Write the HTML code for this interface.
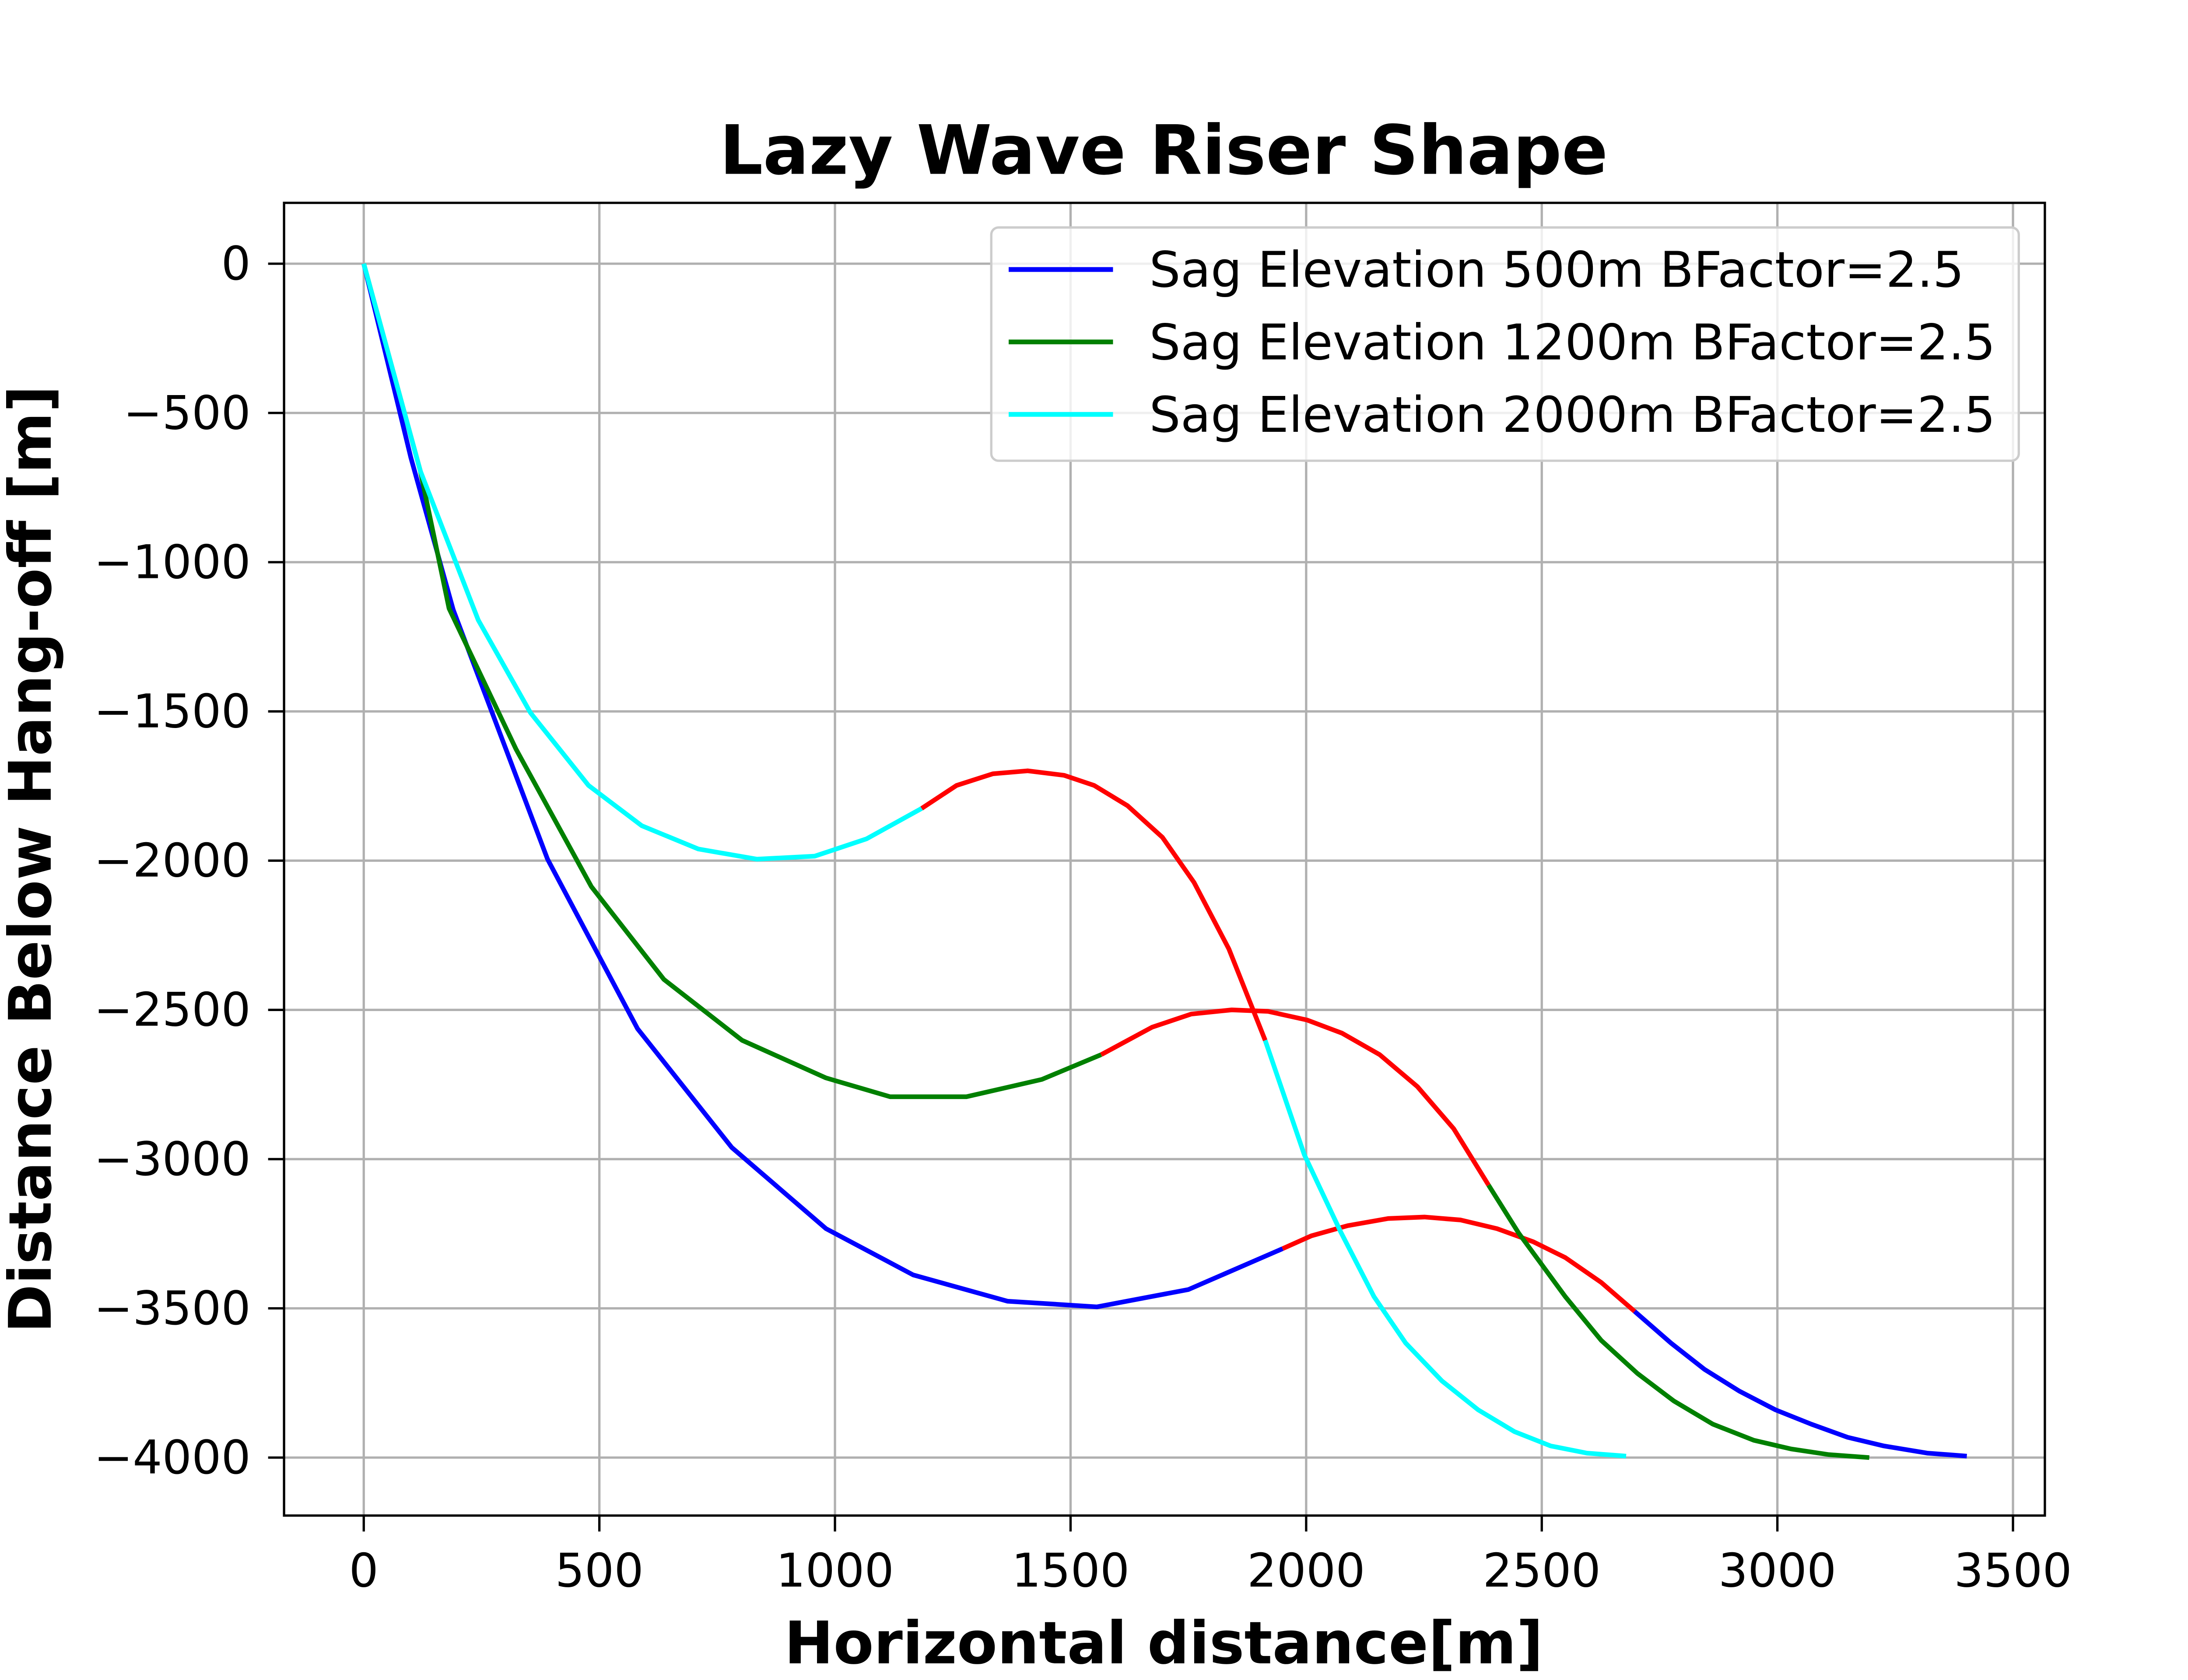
<!DOCTYPE html>
<html><head><meta charset="utf-8"><style>
html,body{margin:0;padding:0;background:#fff;}
svg{display:block;}
text{font-family:"DejaVu Sans","Liberation Sans",sans-serif;}
</style></head><body>
<svg id="chart" width="5120" height="3840" viewBox="0 0 1546 1159.5" preserveAspectRatio="none" xmlns="http://www.w3.org/2000/svg">
<rect width="1546" height="1160" fill="#fff"/>
<g id="grid"></g>
<g id="series"></g>
<rect x="196" y="140" width="1215" height="906" fill="none" stroke="#000" stroke-width="1.6"/>
<g id="ticks"></g>
<text x="803" y="120" text-anchor="middle" font-size="47" font-weight="bold">Lazy Wave Riser Shape</text>
<text x="803" y="1148" text-anchor="middle" font-size="40.5" font-weight="bold">Horizontal distance[m]</text>
<text transform="translate(35,593) rotate(-90)" text-anchor="middle" font-size="40.5" font-weight="bold">Distance Below Hang-off [m]</text>
<g>
<rect x="684" y="157" width="709" height="161" rx="5" fill="#fff" fill-opacity="0.8" stroke="#ccc" stroke-width="1.6"/>
<line x1="696" y1="186" x2="768" y2="186" stroke="#0000ff" stroke-width="3.3"/>
<text x="793" y="198" font-size="34">Sag Elevation 500m BFactor=2.5</text>
<line x1="696" y1="236" x2="768" y2="236" stroke="#008000" stroke-width="3.3"/>
<text x="793" y="248" font-size="34">Sag Elevation 1200m BFactor=2.5</text>
<line x1="696" y1="286" x2="768" y2="286" stroke="#00ffff" stroke-width="3.3"/>
<text x="793" y="298" font-size="34">Sag Elevation 2000m BFactor=2.5</text>
</g>
</svg>
<script>
const xTicks=[0,500,1000,1500,2000,2500,3000,3500];
const yTicks=[0,-500,-1000,-1500,-2000,-2500,-3000,-3500,-4000];
const blue1X=[0,100,190,390,581,781,981,1166,1366,1556,1750,1950];
const blue1Y=[0,-650,-1160,-1995,-2563,-2961,-3233,-3388,-3476,-3495,-3437,-3300];
const blueRedX=[1950,2011,2088,2174,2251,2328,2405,2482,2550,2626,2697];
const blueRedY=[-3300,-3257,-3223,-3199,-3194,-3204,-3233,-3277,-3330,-3413,-3510];
const blue2X=[2697,2774,2845,2919,2996,3072,3149,3226,3318,3402];
const blue2Y=[-3510,-3616,-3704,-3777,-3840,-3888,-3932,-3961,-3985,-3995];
const green1X=[0,120,181,323,483,637,803,981,1117,1279,1439,1565];
const green1Y=[0,-694,-1155,-1626,-2087,-2398,-2602,-2728,-2791,-2791,-2733,-2650];
const greenRedX=[1565,1673,1756,1842,1919,2002,2076,2156,2236,2313,2387];
const greenRedY=[-2650,-2558,-2514,-2500,-2505,-2534,-2578,-2650,-2757,-2898,-3087];
const green2X=[2387,2451,2550,2626,2703,2780,2863,2950,3029,3109,3195];
const green2Y=[-3087,-3248,-3461,-3607,-3718,-3810,-3888,-3942,-3971,-3990,-4000];
const cyan1X=[0,120,243,354,477,590,710,834,957,1067,1184];
const cyan1Y=[0,-694,-1194,-1505,-1748,-1883,-1961,-1995,-1985,-1927,-1825];
const cyanRedX=[1184,1258,1335,1409,1486,1550,1621,1695,1762,1836,1913];
const cyanRedY=[-1825,-1748,-1709,-1699,-1714,-1748,-1816,-1922,-2073,-2296,-2602];
const cyan2X=[1913,1996,2073,2144,2211,2288,2365,2442,2519,2596,2679];
const cyan2Y=[-2602,-2985,-3243,-3461,-3616,-3743,-3840,-3913,-3961,-3985,-3995];

const NS="http://www.w3.org/2000/svg";
function sx(v){return 251+v*(1389-251)/3500;}
function sy(v){return 182+(-v)*(1006-182)/4000;}
const grid=document.getElementById('grid');
const ticks=document.getElementById('ticks');
xTicks.forEach(t=>{
  const l=document.createElementNS(NS,'line');
  l.setAttribute('x1',sx(t));l.setAttribute('x2',sx(t));l.setAttribute('y1',140);l.setAttribute('y2',1046);
  l.setAttribute('stroke','#b0b0b0');l.setAttribute('stroke-width','1.6');
  
  
  grid.appendChild(l);
  const tk=document.createElementNS(NS,'line');
  tk.setAttribute('x1',sx(t));tk.setAttribute('x2',sx(t));tk.setAttribute('y1',1046);tk.setAttribute('y2',1057);
  tk.setAttribute('stroke','#000');tk.setAttribute('stroke-width','1.6');
  
  
  ticks.appendChild(tk);
  const tx=document.createElementNS(NS,'text');
  tx.setAttribute('x',sx(t));tx.setAttribute('y',1095);tx.setAttribute('text-anchor','middle');tx.setAttribute('font-size','32');
  tx.textContent=String(t);
  
  
  ticks.appendChild(tx);
});
yTicks.forEach(t=>{
  const l=document.createElementNS(NS,'line');
  l.setAttribute('x1',196);l.setAttribute('x2',1411);l.setAttribute('y1',sy(t));l.setAttribute('y2',sy(t));
  l.setAttribute('stroke','#b0b0b0');l.setAttribute('stroke-width','1.6');
  
  
  grid.appendChild(l);
  const tk=document.createElementNS(NS,'line');
  tk.setAttribute('x1',185);tk.setAttribute('x2',196);tk.setAttribute('y1',sy(t));tk.setAttribute('y2',sy(t));
  tk.setAttribute('stroke','#000');tk.setAttribute('stroke-width','1.6');
  
  
  ticks.appendChild(tk);
  const tx=document.createElementNS(NS,'text');
  tx.setAttribute('x',173);tx.setAttribute('y',sy(t)+11);tx.setAttribute('text-anchor','end');tx.setAttribute('font-size','32');
  tx.textContent=t<0?'\u2212'+(-t):String(t);
  
  
  ticks.appendChild(tx);
});
const series=document.getElementById('series');
function draw(xs,ys,color,name){
  const p=document.createElementNS(NS,'polyline');
  p.setAttribute('points',xs.map((x,i)=>sx(x)+','+sy(ys[i])).join(' '));
  p.setAttribute('fill','none');p.setAttribute('stroke',color);p.setAttribute('stroke-width','3.2');
  p.setAttribute('stroke-linejoin','round');
  
  
  series.appendChild(p);
}
draw(blue1X,blue1Y,'#0000ff','line-500m-upper');
draw(blue2X,blue2Y,'#0000ff','line-500m-lower');
draw(blueRedX,blueRedY,'#ff0000','buoyancy-section-500m');
draw(green1X,green1Y,'#008000','line-1200m-upper');
draw(green2X,green2Y,'#008000','line-1200m-lower');
draw(greenRedX,greenRedY,'#ff0000','buoyancy-section-1200m');
draw(cyan1X,cyan1Y,'#00ffff','line-2000m-upper');
draw(cyan2X,cyan2Y,'#00ffff','line-2000m-lower');
draw(cyanRedX,cyanRedY,'#ff0000','buoyancy-section-2000m');
</script>
</body></html>
